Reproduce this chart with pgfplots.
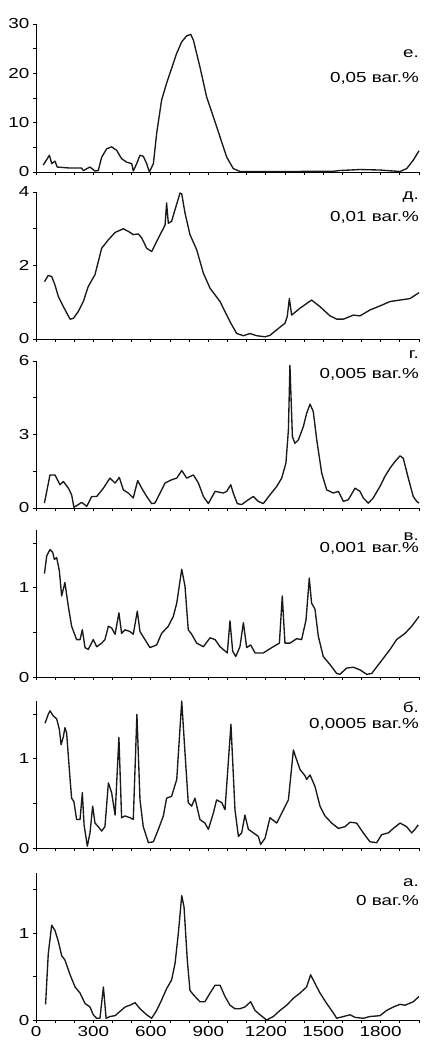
\documentclass[border=0pt]{standalone}
\usepackage{fontspec}
\setmainfont{Liberation Sans}[FakeStretch=1.3]
\usepackage{pgfplots}
\pgfplotsset{compat=1.18}

\pgfplotsset{
  panel/.style={
    scale only axis,
    width=383pt,
    height=147pt,
    anchor=south west,
    axis lines=left,
    axis line style={-, line width=1pt},
    xmin=0, xmax=2000, ymin=0,
    xtick={0,300,...,1800},
    minor xtick={0,100,...,2000},
    xticklabels={},
    tick align=outside,
    major tick length=3pt,
    minor tick length=3pt,
    tick style={black, line width=0.9pt},
    every tick label/.append style={font=\fontsize{14.5}{16}\selectfont},
    /pgf/number format/assume math mode=true,
    /pgf/number format/1000 sep={},
    clip=false,
  },
  curve/.style={black!90, line width=1.35pt, line join=round, mark=none},
}
\tikzset{lab/.style={anchor=base east, inner sep=0pt, font=\fontsize{14.5}{16}\selectfont}}

\begin{document}
\begin{tikzpicture}
\useasboundingbox (0,0) rectangle (423pt,-1041pt);

% е. 0,05
\begin{axis}[panel, at={(36pt,-172pt)}, height=148pt, ymax=30,
  ytick={0,10,20,30}, minor ytick={5,15,25}]
\addplot[curve] coordinates {
(38,1.4) (70,3.4) (82,1.7) (99,2.2) (111,1.0) (178,0.8) (238,0.8) (247,0.3)
(282,1.0) (308,0.2) (325,0.3) (343,3.0) (369,4.7) (395,5.1) (421,4.4)
(447,2.7) (473,2.0) (500,1.7) (508,0.2) (526,1.7) (543,3.4) (560,3.2)
(578,1.7) (592,0.0) (613,1.7) (630,7.8) (656,14.6) (682,18.0) (708,21.0)
(734,24.0) (761,26.4) (787,27.6) (808,27.9) (822,26.7) (856,21.3)
(891,15.2) (926,11.2) (961,7.1) (996,3.0) (1030,0.7) (1065,0.1)
(1300,0.1) (1553,0.15) (1587,0.3) (1692,0.5) (1796,0.4) (1901,0.1)
(1936,0.7) (1970,2.4) (2000,4.3)
};
\node[lab] at (rel axis cs:1,0.777) {е.};
\node[lab] at (rel axis cs:1,0.608) {0,05 ваг.\%};
\end{axis}

% д. 0,01
\begin{axis}[panel, at={(36pt,-339pt)}, ymax=4,
  ytick={0,2,4}, minor ytick={1,3}]
\addplot[curve] coordinates {
(44,1.56) (64,1.73) (82,1.70) (99,1.47) (117,1.15) (143,0.88) (178,0.54)
(195,0.56) (221,0.75) (247,1.02) (273,1.43) (308,1.75) (343,2.47)
(378,2.70) (413,2.90) (456,3.00) (482,2.93) (508,2.84) (534,2.86)
(552,2.75) (578,2.47) (604,2.38) (621,2.56) (648,2.84) (674,3.10)
(682,3.70) (691,3.15) (708,3.20) (726,3.52) (752,3.97) (761,3.95)
(778,3.43) (804,2.84) (839,2.43) (874,1.79) (909,1.38) (961,1.02)
(1013,0.47) (1048,0.15) (1083,0.09) (1117,0.15) (1152,0.09) (1196,0.06)
(1222,0.10) (1257,0.25) (1300,0.43) (1312,0.61) (1323,1.10) (1335,0.65)
(1379,0.84) (1439,1.06) (1483,0.88) (1535,0.63) (1570,0.54) (1605,0.54)
(1657,0.65) (1692,0.63) (1744,0.79) (1796,0.90) (1849,1.02) (1901,1.06)
(1953,1.10) (2000,1.26)
};
\node[lab] at (rel axis cs:1,0.952) {д.};
\node[lab] at (rel axis cs:1,0.796) {0,01 ваг.\%};
\end{axis}

% г. 0,005
\begin{axis}[panel, at={(36pt,-508pt)}, ymax=6,
  ytick={0,3,6}, minor ytick={1.5,4.5}]
\addplot[curve] coordinates {
(44,0.20) (73,1.35) (99,1.35) (125,0.95) (143,1.08) (169,0.81) (186,0.54)
(198,0.03) (221,0.14) (238,0.23) (265,0.07) (291,0.47) (317,0.47)
(352,0.81) (386,1.22) (413,1.02) (435,1.25) (456,0.74) (482,0.61)
(508,0.41) (531,1.12) (552,0.81) (578,0.47) (604,0.18) (621,0.20)
(648,0.61) (674,1.02) (708,1.15) (735,1.22) (761,1.53) (787,1.22)
(822,1.35) (848,1.02) (874,0.47) (900,0.18) (935,0.68) (978,0.61)
(996,0.68) (1017,0.95) (1030,0.61) (1051,0.18) (1074,0.14) (1109,0.34)
(1135,0.47) (1161,0.27) (1187,0.18) (1222,0.54) (1257,0.88) (1283,1.22)
(1305,1.83) (1318,3.18) (1326,5.82) (1339,2.91) (1352,2.64) (1370,2.78)
(1396,3.32) (1413,3.86) (1431,4.24) (1448,3.93) (1466,2.78) (1492,1.42)
(1518,0.74) (1553,0.61) (1579,0.68) (1605,0.27) (1631,0.34) (1666,0.81)
(1692,0.68) (1709,0.41) (1735,0.20) (1761,0.41) (1796,0.88) (1822,1.29)
(1849,1.63) (1875,1.90) (1901,2.13) (1918,2.03) (1944,1.22) (1970,0.47)
(1988,0.27) (2000,0.20)
};
\node[lab] at (rel axis cs:1,1.02) {г.};
\node[lab] at (rel axis cs:1,0.884) {0,005 ваг.\%};
\end{axis}

% в. 0,001
\begin{axis}[panel, at={(36pt,-677pt)}, ymax=1.65,
  ytick={0,1}, minor ytick={0.5,1.5}]
\addplot[curve] coordinates {
(44,1.16) (56,1.36) (73,1.43) (87,1.40) (96,1.32) (108,1.34) (122,1.19)
(134,0.91) (151,1.06) (169,0.79) (186,0.57) (212,0.42) (230,0.42)
(242,0.53) (256,0.33) (273,0.31) (299,0.42) (317,0.34) (343,0.38)
(360,0.42) (378,0.57) (395,0.55) (413,0.48) (433,0.72) (447,0.49)
(465,0.53) (491,0.51) (508,0.48) (529,0.74) (543,0.51) (569,0.42)
(595,0.33) (630,0.36) (656,0.49) (691,0.57) (717,0.68) (735,0.83)
(761,1.21) (778,1.02) (795,0.53) (813,0.48) (839,0.38) (874,0.34)
(909,0.44) (935,0.42) (961,0.34) (999,0.27) (1013,0.63) (1027,0.29)
(1043,0.23) (1065,0.34) (1083,0.61) (1100,0.33) (1121,0.36) (1144,0.27)
(1187,0.27) (1231,0.33) (1271,0.38) (1286,0.91) (1300,0.38) (1326,0.38)
(1361,0.43) (1387,0.42) (1410,0.64) (1427,1.11) (1439,0.83) (1457,0.76)
(1474,0.46) (1500,0.23) (1535,0.14) (1570,0.04) (1587,0.03) (1622,0.10)
(1657,0.11) (1692,0.08) (1727,0.03) (1753,0.04) (1796,0.16) (1849,0.31)
(1883,0.42) (1927,0.49) (1962,0.57) (2000,0.68)
};
\node[lab] at (rel axis cs:1,0.932) {в.};
\node[lab] at (rel axis cs:1,0.844) {0,001 ваг.\%};
\end{axis}

% б. 0,0005
\begin{axis}[panel, at={(36pt,-848pt)}, ymax=1.65,
  ytick={0,1}, minor ytick={0.5,1.5}]
\addplot[curve] coordinates {
(47,1.40) (64,1.50) (73,1.54) (91,1.48) (108,1.45) (122,1.33) (131,1.16)
(143,1.25) (151,1.35) (160,1.29) (178,0.77) (186,0.56) (198,0.52)
(212,0.32) (230,0.32) (242,0.62) (251,0.26) (268,0.02) (282,0.17)
(296,0.47) (308,0.28) (325,0.24) (343,0.19) (360,0.24) (378,0.73)
(395,0.62) (413,0.37) (433,1.24) (447,0.34) (465,0.36) (491,0.34)
(508,0.32) (527,1.50) (543,0.54) (560,0.24) (587,0.06) (613,0.07)
(639,0.21) (665,0.36) (682,0.56) (708,0.58) (735,0.77) (761,1.65)
(778,1.07) (795,0.51) (813,0.47) (830,0.56) (856,0.32) (882,0.28)
(900,0.21) (926,0.39) (943,0.54) (970,0.51) (987,0.43) (1018,1.39)
(1039,0.43) (1057,0.13) (1074,0.17) (1091,0.37) (1109,0.21) (1135,0.17)
(1161,0.13) (1173,0.04) (1196,0.11) (1222,0.34) (1257,0.28) (1292,0.43)
(1318,0.54) (1344,1.10) (1361,0.99) (1379,0.88) (1405,0.81) (1413,0.77)
(1431,0.82) (1457,0.69) (1483,0.47) (1509,0.36) (1544,0.28) (1579,0.22)
(1614,0.24) (1640,0.29) (1674,0.28) (1709,0.17) (1744,0.07) (1779,0.06)
(1805,0.15) (1840,0.17) (1866,0.22) (1901,0.28) (1935,0.24) (1962,0.17)
(1979,0.21) (1996,0.26)
};
\node[lab] at (rel axis cs:1,0.925) {б.};
\node[lab] at (rel axis cs:1,0.816) {0,0005 ваг.\%};
\end{axis}

% а. 0
\begin{axis}[panel, at={(36pt,-1020pt)}, ymax=1.69,
  ytick={0,1}, minor ytick={0.5,1.5},
  xticklabels={0,300,600,900,1200,1500,1800}]
\addplot[curve] coordinates {
(50,0.18) (64,0.76) (82,1.09) (99,1.03) (117,0.90) (134,0.74) (151,0.69)
(178,0.52) (204,0.38) (230,0.31) (256,0.19) (282,0.15) (299,0.06)
(317,0.02) (334,0.02) (352,0.38) (366,0.02) (386,0.04) (413,0.05)
(439,0.10) (465,0.15) (491,0.17) (517,0.20) (543,0.13) (578,0.06)
(604,0.02) (630,0.11) (656,0.23) (682,0.36) (708,0.46) (726,0.65)
(743,0.99) (761,1.43) (773,1.30) (790,0.69) (804,0.34) (822,0.29)
(856,0.21) (882,0.21) (909,0.31) (935,0.40) (961,0.40) (987,0.27)
(1013,0.17) (1039,0.13) (1065,0.13) (1091,0.15) (1121,0.21) (1144,0.11)
(1170,0.06) (1204,0.00) (1239,0.04) (1274,0.11) (1309,0.17) (1344,0.25)
(1379,0.31) (1413,0.38) (1434,0.52) (1457,0.42) (1483,0.31) (1518,0.19)
(1553,0.08) (1570,0.02) (1605,0.04) (1640,0.06) (1666,0.03) (1709,0.02)
(1744,0.04) (1796,0.05) (1831,0.11) (1866,0.15) (1901,0.18) (1927,0.17)
(1970,0.21) (2000,0.27)
};
\node[lab] at (rel axis cs:1,0.905) {а.};
\node[lab] at (rel axis cs:1,0.782) {0 ваг.\%};
\end{axis}
\end{tikzpicture}
\end{document}
